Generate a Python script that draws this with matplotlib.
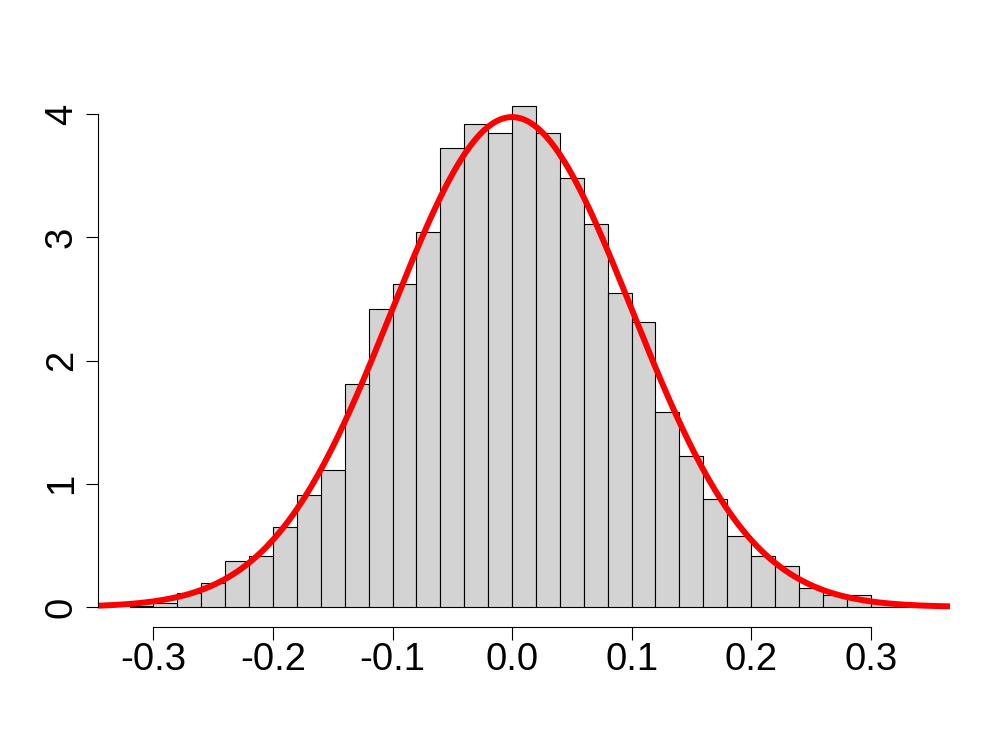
"""Histogram of simulated values with a fitted normal density curve"""
import numpy as np
import matplotlib
matplotlib.use("Agg")
import matplotlib.pyplot as plt

# left edges of the histogram bins (width 0.02)
bin_left = [-0.32, -0.30, -0.28, -0.26, -0.24, -0.22, -0.20, -0.18, -0.16, -0.14, -0.12,
            -0.10, -0.08, -0.06, -0.04, -0.02, 0.00, 0.02, 0.04, 0.06, 0.08, 0.10,
            0.12, 0.14, 0.16, 0.18, 0.20, 0.22, 0.24, 0.26, 0.28, 0.30, 0.32]
bin_width = 0.02
density = [0.005, 0.03, 0.111, 0.193, 0.371, 0.412, 0.647, 0.907, 1.110, 1.809, 2.418,
           2.621, 3.044, 3.726, 3.921, 3.848, 4.067, 3.848, 3.483, 3.109, 2.548, 2.313,
           1.582, 1.227, 0.875, 0.574, 0.412, 0.331, 0.152, 0.095, 0.095, 0.03, 0.01]

# fitted normal curve parameters
mu = 0.0
sigma = 0.1003

x_ticks = [-0.3, -0.2, -0.1, 0.0, 0.1, 0.2, 0.3]
x_tick_labels = ["-0.3", "-0.2", "-0.1", "0.0", "0.1", "0.2", "0.3"]
y_ticks = [0, 1, 2, 3, 4]


def normal_pdf(x, m, s):
    return np.exp(-0.5 * ((x - m) / s) ** 2) / (s * np.sqrt(2 * np.pi))


def main():
    plt.rcParams["font.family"] = ["Liberation Sans", "DejaVu Sans"]
    fig = plt.figure(figsize=(10, 7.5), dpi=100)
    ax = fig.add_axes([0.098, 0.164, 0.852, 0.7213])

    ax.bar(bin_left, density, width=bin_width, align="edge",
           color="#D3D3D3", edgecolor="black", linewidth=0.8)

    # R style axis limits: range extended by 4%
    lo, hi = bin_left[0], bin_left[-1] + bin_width
    pad = (hi - lo) * 0.04
    xlim = (lo - pad, hi + pad)
    ymax = max(density)
    ax.set_xlim(*xlim)
    ax.set_ylim(-ymax * 0.04, ymax * 1.04)

    xs = np.linspace(xlim[0], xlim[1], 400)
    ax.plot(xs, normal_pdf(xs, mu, sigma), color="red", linewidth=4.3,
            solid_capstyle="butt", clip_on=False)

    for side in ["top", "right"]:
        ax.spines[side].set_visible(False)
    ax.spines["left"].set_bounds(0, 4)
    ax.spines["bottom"].set_bounds(-0.3, 0.3)
    ax.spines["left"].set_linewidth(0.8)
    ax.spines["bottom"].set_linewidth(0.8)

    ax.set_xticks(x_ticks)
    ax.set_xticklabels(x_tick_labels)
    ax.set_yticks(y_ticks)
    ax.set_yticklabels([str(v) for v in y_ticks], rotation=90, va="center")
    ax.tick_params(axis="both", length=9.0, width=0.8, labelsize=27.5)
    ax.tick_params(axis="x", pad=2)
    ax.tick_params(axis="y", pad=4)

    fig.savefig("out.png", dpi=100)


if __name__ == "__main__":
    main()
